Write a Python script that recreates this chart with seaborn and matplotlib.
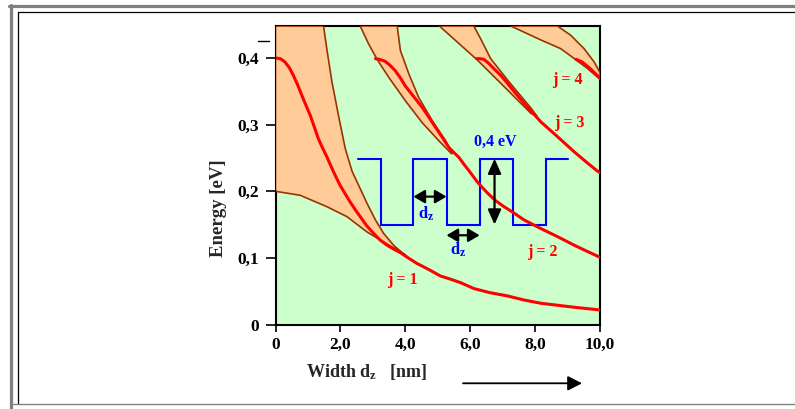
import matplotlib
matplotlib.use("Agg")
import matplotlib.pyplot as plt
from matplotlib.lines import Line2D
import numpy as np
import pandas as pd
import seaborn as sns

# ---------------- data (x = width d_z in nm, E = energy in eV) ----------------
XMAX, YMAX = 10.0, 0.448
x_ticks = [0, 2, 4, 6, 8, 10]
x_ticklabels = ["0", "2,0", "4,0", "6,0", "8,0", "10,0"]
y_ticks = [0, 0.1, 0.2, 0.3, 0.4]
y_ticklabels = ["0", "0,1", "0,2", "0,3", "0,4"]

# red curves (levels j = 1..4)
j1_x = [0.0, 0.15, 0.29, 0.42, 0.55, 0.68, 0.81, 0.94, 1.07, 1.20, 1.32, 1.45, 1.58, 1.79, 1.99, 2.15, 2.30, 2.45, 2.61, 2.80, 3.02, 3.22, 3.44, 3.65, 3.85, 4.06, 4.35, 4.67, 5.08, 5.40, 5.70, 6.12, 6.60, 7.15, 7.65, 8.18, 8.70, 9.21, 9.60, 10.0]
j1_E = [0.400, 0.399, 0.394, 0.386, 0.374, 0.360, 0.344, 0.329, 0.314, 0.296, 0.279, 0.265, 0.252, 0.229, 0.209, 0.196, 0.184, 0.173, 0.162, 0.149, 0.137, 0.127, 0.119, 0.113, 0.108, 0.101, 0.092, 0.084, 0.073, 0.068, 0.063, 0.054, 0.048, 0.043, 0.037, 0.032, 0.029, 0.026, 0.024, 0.022]
j2_x = [3.08, 3.20, 3.38, 3.53, 3.69, 3.85, 4.00, 4.26, 4.52, 4.73, 4.93, 5.14, 5.34, 5.50, 5.65, 5.80, 5.96, 6.22, 6.50, 6.78, 7.04, 7.30, 7.66, 8.18, 8.69, 9.21, 9.60, 10.0]
j2_E = [0.399, 0.398, 0.395, 0.389, 0.381, 0.370, 0.358, 0.342, 0.326, 0.311, 0.296, 0.281, 0.266, 0.258, 0.251, 0.241, 0.231, 0.214, 0.199, 0.186, 0.177, 0.169, 0.157, 0.144, 0.132, 0.119, 0.110, 0.101]
j3_x = [6.20, 6.30, 6.42, 6.57, 6.73, 6.94, 7.15, 7.40, 7.66, 7.92, 8.18, 8.69, 9.21, 9.60, 9.93, 10.0]
j3_E = [0.399, 0.399, 0.398, 0.392, 0.384, 0.374, 0.362, 0.347, 0.332, 0.318, 0.304, 0.282, 0.259, 0.243, 0.230, 0.228]
j4_x = [9.26, 9.45, 9.70, 10.0]
j4_E = [0.398, 0.394, 0.384, 0.370]

# orange bands: lower and upper edges
b1_lo_x = [0.0, 0.76, 1.58, 2.20, 2.82, 3.33, 3.75, 3.95, 4.06]
b1_lo_E = [0.200, 0.194, 0.177, 0.162, 0.139, 0.124, 0.112, 0.106, 0.101]
b1_up_x = [1.48, 1.58, 1.74, 1.94, 2.15, 2.36, 2.61, 2.82, 3.08, 3.33, 3.64, 3.90, 4.06]
b1_up_E = [0.448, 0.414, 0.364, 0.314, 0.264, 0.230, 0.204, 0.182, 0.157, 0.137, 0.119, 0.108, 0.102]

b2_lo_x = [2.61, 2.87, 3.13, 3.49, 4.00, 4.52, 5.03, 5.39, 5.45]
b2_lo_E = [0.448, 0.421, 0.398, 0.371, 0.336, 0.303, 0.276, 0.258, 0.256]
b2_up_x = [3.75, 3.85, 4.11, 4.41, 4.83, 5.24, 5.45]
b2_up_E = [0.448, 0.411, 0.376, 0.341, 0.306, 0.276, 0.256]

b3_lo_x = [5.05, 5.60, 6.22, 7.15, 7.87, 8.07]
b3_lo_E = [0.448, 0.424, 0.397, 0.352, 0.317, 0.312]
b3_up_x = [6.11, 6.32, 6.63, 7.15, 7.87, 8.07]
b3_up_E = [0.448, 0.429, 0.399, 0.367, 0.325, 0.312]

b4_lo_x = [7.25, 8.18, 8.79, 9.21, 9.62, 10.0]
b4_lo_E = [0.448, 0.427, 0.414, 0.399, 0.384, 0.368]
b4_up_x = [8.69, 9.10, 9.51, 9.82, 10.0]
b4_up_E = [0.448, 0.434, 0.414, 0.394, 0.378]

# schematic multi-quantum-well (blue)
well_edges_x = [2.55, 3.26, 4.25, 5.27, 6.29, 7.31, 8.33, 9.0]
well_top, well_bottom = 0.249, 0.150

level_labels = ["j = 1", "j = 2", "j = 3", "j = 4"]
level_label_x = [3.90, 8.23, 9.05, 9.00]
level_label_E = [0.067, 0.109, 0.302, 0.367]

# ---------------- style ----------------
sns.set_style("white")
plt.rcParams["font.family"] = ["Liberation Serif", "DejaVu Serif"]
plt.rcParams["font.weight"] = "bold"
plt.rcParams["mathtext.fontset"] = "custom"
plt.rcParams["mathtext.rm"] = "Liberation Serif:bold"
plt.rcParams["mathtext.bf"] = "Liberation Serif:bold"
plt.rcParams["mathtext.it"] = "Liberation Serif:bold"

GREEN = "#CCFFCC"
ORANGE = "#FFCC99"
BROWN = "#993300"
RED = "#FF0000"
BLUE = "#0000FF"

W, H = 795, 409
fig = plt.figure(figsize=(W / 100, H / 100), dpi=100)
fig.patch.set_facecolor("white")
ax = fig.add_axes([275.5 / W, (H - 324.6) / H, 324.5 / W, (324.6 - 26) / H])
ax.set_facecolor(GREEN)
ax.set_xlim(0, XMAX)
ax.set_ylim(0, YMAX)

# bands
bands = [
    (b1_lo_x, b1_lo_E, b1_up_x, b1_up_E, [(0.0, YMAX)]),
    (b2_lo_x, b2_lo_E, b2_up_x, b2_up_E, []),
    (b3_lo_x, b3_lo_E, b3_up_x, b3_up_E, []),
    (b4_lo_x, b4_lo_E, b4_up_x, b4_up_E, []),
]
for lx, le, ux, ue, extra in bands:
    px = list(lx) + list(ux[::-1]) + [p[0] for p in extra]
    py = list(le) + list(ue[::-1]) + [p[1] for p in extra]
    ax.fill(px, py, facecolor=ORANGE, edgecolor=BROWN, linewidth=1.2, zorder=3, clip_on=True)

# quantum well schematic (square wave between barrier/well edges)
wx, wy = [well_edges_x[0]], [well_top]
for i, xe in enumerate(well_edges_x[1:], start=1):
    prev = wy[-1]
    wx.append(xe); wy.append(prev)
    if i < len(well_edges_x) - 1:
        wx.append(xe); wy.append(well_bottom if prev == well_top else well_top)
ax.plot(wx, wy, color=BLUE, lw=1.5, zorder=4, solid_joinstyle="miter")

# red level curves via seaborn
frames = []
for name, xs, es in [("j1", j1_x, j1_E), ("j2", j2_x, j2_E), ("j3", j3_x, j3_E), ("j4", j4_x, j4_E)]:
    frames.append(pd.DataFrame({"x": xs, "E": es, "level": name}))
df = pd.concat(frames, ignore_index=True)
sns.lineplot(data=df, x="x", y="E", units="level", estimator=None, sort=False,
             color=RED, lw=2.2, ax=ax, zorder=5, legend=False)

# arrows in schematic
h_kw = dict(arrowstyle="<|-|>,head_length=0.34,head_width=0.2", color="black", lw=1.6,
            mutation_scale=20, shrinkA=0, shrinkB=0)
v_kw = dict(arrowstyle="<|-|>,head_length=0.45,head_width=0.2", color="black", lw=1.6,
            mutation_scale=20, shrinkA=0, shrinkB=0)
ax.annotate("", xy=(well_edges_x[2], 0.192), xytext=(well_edges_x[3], 0.192), arrowprops=h_kw, zorder=6)
ax.annotate("", xy=(well_edges_x[3], 0.134), xytext=(well_edges_x[4], 0.134), arrowprops=h_kw, zorder=6)
ax.annotate("", xy=(6.75, well_top), xytext=(6.75, well_bottom), arrowprops=v_kw, zorder=6)

ax.text(4.65, 0.166, r"d$_\mathrm{z}$", color=BLUE, fontsize=12, fontweight="bold", ha="center", va="center", zorder=7)
ax.text(5.64, 0.112, r"d$_\mathrm{z}$", color=BLUE, fontsize=12, fontweight="bold", ha="center", va="center", zorder=7)
ax.text(6.78, 0.274, "0,4 eV", color=BLUE, fontsize=11.5, fontweight="bold", ha="center", va="center", zorder=7)

for lab, lx, le in zip(level_labels, level_label_x, level_label_E):
    ax.text(lx, le, lab, color=RED, fontsize=11.5, fontweight="bold", ha="center", va="center", zorder=7)

# axes styling
ax.set_xticks(x_ticks)
ax.set_xticklabels(x_ticklabels)
ax.set_yticks(y_ticks)
ax.set_yticklabels(y_ticklabels)
ax.tick_params(axis="both", direction="out", width=1.2, colors="black",
               labelsize=12.5, bottom=True, left=True)
ax.tick_params(axis="x", length=5.2, pad=3.5)
ax.tick_params(axis="y", length=7.3, pad=4.5)
for lab in ax.get_xticklabels() + ax.get_yticklabels():
    lab.set_fontweight("bold")
for s in ax.spines.values():
    s.set_visible(True)
    s.set_color("black")
    s.set_linewidth(1.5)
ax.set_xlabel("")
ax.set_ylabel("")

# axis labels
def fx(p):
    return p / W

def fy(p):
    return 1 - p / H

fig.text(fx(366), fy(377), r"Width d$_\mathrm{z}$   [nm]", fontsize=13, fontweight="bold",
         ha="center", va="baseline")
fig.text(fx(218.7), fy(208.3), "Energy [eV]", fontsize=13.5, fontweight="bold",
         ha="center", va="center", rotation=90)
ax.annotate("", xy=(582, H - 383.3), xytext=(463, H - 383.3), xycoords="figure pixels",
            textcoords="figure pixels", annotation_clip=False,
            arrowprops=dict(arrowstyle="-|>,head_length=0.43,head_width=0.22", color="black",
                            lw=1.3, mutation_scale=20, shrinkA=0, shrinkB=0))

# stray short tick above 0,4
fig.add_artist(Line2D([fx(258), fx(269)], [fy(40.7), fy(40.7)], color="black", lw=1.0))

# page frame
fig.add_artist(Line2D([fx(9), fx(795)], [fy(5.5), fy(5.5)], color="#808080", lw=2.3))
fig.add_artist(Line2D([fx(10.5), fx(10.5)], [fy(4.5), fy(409)], color="#808080", lw=2.3))
fig.add_artist(Line2D([fx(17.7), fx(795)], [fy(12.3), fy(12.3)], color="black", lw=0.9))
fig.add_artist(Line2D([fx(17.7), fx(17.7)], [fy(12.3), fy(404)], color="black", lw=0.9))
fig.add_artist(Line2D([fx(12), fx(795)], [fy(404), fy(404)], color="#808080", lw=1.0))

fig.savefig("out.png", dpi=100)
